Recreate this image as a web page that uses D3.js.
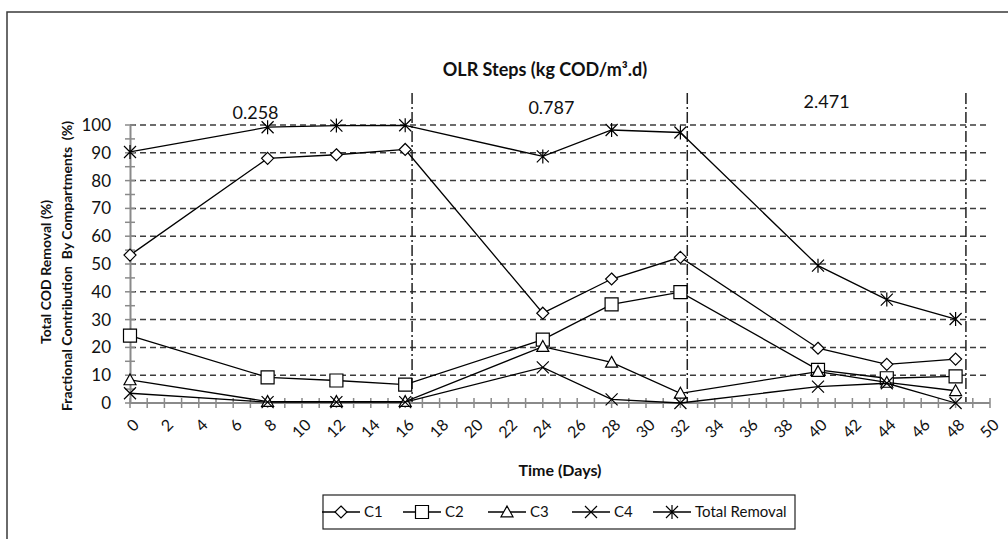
<!DOCTYPE html>
<html><head><meta charset="utf-8">
<script src="https://cdn.jsdelivr.net/npm/d3@7"></script>
<style>body{margin:0;background:#fff;} text{font-family:Lato,"Noto Sans",sans-serif;fill:#111;}</style>
</head><body>
<svg id="chart" width="1008" height="539"></svg>
<script>
const days = [0, 8, 12, 16, 24, 28, 32, 40, 44, 48];
const c1 = [53.2, 88, 89.3, 91.2, 32.3, 44.6, 52.4, 19.7, 13.9, 15.8];
const c2 = [24.2, 9.2, 8.1, 6.6, 22.8, 35.5, 39.9, 11.9, 8.9, 9.6];
const c3 = [8.3, 0.5, 0.5, 0.5, 20.3, 14.6, 3.5, 11.3, 7.4, 4.4];
const c4 = [3.5, 0.3, 0.3, 0.3, 12.8, 1.3, 0, 5.9, 7.1, 0];
const totalRemoval = [90.3, 99.2, 99.8, 99.9, 88.7, 98.2, 97.3, 49.4, 37.2, 30.2];
const seriesNames = ["C1", "C2", "C3", "C4", "Total Removal"];
const seriesMarkers = ["diamond", "square", "triangle", "x", "star"];
const olrSteps = ["0.258", "0.787", "2.471"];
const olrLabelDays = [7.3, 24.5, 40.5];
const olrBoundaries = [16.4, 32.4, 48.6];
const yTicks = [0, 10, 20, 30, 40, 50, 60, 70, 80, 90, 100];
const xTicks = d3.range(0, 51, 2);

const svg = d3.select("#chart");
const x = d3.scaleLinear().domain([0, 50]).range([130, 990]);
const y = d3.scaleLinear().domain([0, 100]).range([403, 125]);

// outer frame
svg.append("rect").attr("x", 7).attr("y", 12).attr("width", 1010).attr("height", 540)
  .attr("fill", "none").attr("stroke", "#3a3a3a").attr("stroke-width", 1.5);

// gridlines
svg.append("g").selectAll("line").data(yTicks.filter(d => d > 0)).join("line")
  .attr("x1", x(0)).attr("x2", x(50)).attr("y1", d => y(d)).attr("y2", d => y(d))
  .attr("stroke", "#3c3c3c").attr("stroke-width", 1.5).attr("stroke-dasharray", "6,4");

// OLR boundaries
svg.append("g").selectAll("line").data(olrBoundaries).join("line")
  .attr("x1", d => x(d)).attr("x2", d => x(d)).attr("y1", 93).attr("y2", y(0))
  .attr("stroke", "#222").attr("stroke-width", 1.5).attr("stroke-dasharray", "11,3,2,3");

// axes
const yAxis = d3.axisLeft(y).tickValues(d3.range(0, 101, 5)).tickSize(0).tickFormat("");
svg.append("g").attr("transform", `translate(${x(0)},0)`).call(yAxis)
  .call(g => g.select(".domain").attr("stroke", "#8a8a8a").attr("stroke-width", 2));
svg.append("g").selectAll("line").data(d3.range(0, 101, 5)).join("line")
  .attr("x1", x(0) - 5).attr("x2", x(0) + 5).attr("y1", d => y(d)).attr("y2", d => y(d))
  .attr("stroke", "#8a8a8a").attr("stroke-width", 1.5);
svg.append("g").selectAll("text").data(yTicks).join("text")
  .attr("x", 111).attr("y", d => y(d)).attr("dy", "0.35em").attr("text-anchor", "end")
  .style("font-size", "17px").text(d => d);

svg.append("line").attr("x1", x(0)).attr("x2", x(50)).attr("y1", y(0)).attr("y2", y(0))
  .attr("stroke", "#8a8a8a").attr("stroke-width", 2);
svg.append("g").selectAll("line").data(d3.range(0, 51, 1)).join("line")
  .attr("x1", d => x(d)).attr("x2", d => x(d)).attr("y1", y(0) - 5).attr("y2", y(0) + 5)
  .attr("stroke", "#8a8a8a").attr("stroke-width", 1.5);
svg.append("g").selectAll("text").data(xTicks).join("text")
  .attr("transform", d => `translate(${x(d) + 6},${y(0) + 19}) rotate(-45)`)
  .attr("text-anchor", "end").attr("dy", "0.35em")
  .style("font-size", "16px").text(d => d);

// titles
svg.append("text").attr("x", 545).attr("y", 76).attr("text-anchor", "middle")
  .style("font-size", "18px").style("font-weight", "bold").text("OLR Steps (kg COD/m³.d)");
svg.append("text").attr("x", 560).attr("y", 476).attr("text-anchor", "middle")
  .style("font-size", "16px").style("font-weight", "bold").text("Time (Days)");
svg.append("text").attr("transform", "translate(51,272) rotate(-90)").attr("text-anchor", "middle")
  .style("font-size", "14px").style("font-weight", "bold").text("Total COD Removal (%)");
svg.append("text").attr("transform", "translate(72,266) rotate(-90)").attr("text-anchor", "middle")
  .style("font-size", "14px").style("font-weight", "bold").style("white-space", "pre")
  .attr("xml:space", "preserve").text("Fractional Contribution  By Compartments  (%)");

// OLR step labels
const olrY = [113, 108, 102];
svg.append("g").selectAll("text").data(olrSteps).join("text")
  .attr("x", (d, i) => x(olrLabelDays[i])).attr("y", (d, i) => olrY[i]).attr("dy", "0.35em")
  .attr("text-anchor", "middle").style("font-size", "18px").text(d => d);

// markers
function markerPath(type, s) {
  const h = s / 2;
  switch (type) {
    case "diamond": return `M0,${-h}L${h},0L0,${h}L${-h},0Z`;
    case "square": return `M${-h},${-h}H${h}V${h}H${-h}Z`;
    case "triangle": return `M0,${-h}L${h},${h * 0.8}H${-h}Z`;
    case "x": return `M${-h},${-h}L${h},${h}M${-h},${h}L${h},${-h}`;
    case "star": return `M${-h},${-h}L${h},${h}M${-h},${h}L${h},${-h}M0,${-h - 1}V${h + 1}`;
  }
}
const markerSize = {diamond: 12, square: 13, triangle: 12, x: 12, star: 12};

const allSeries = [c1, c2, c3, c4, totalRemoval];
const line = d3.line().x(d => x(d[0])).y(d => y(d[1]));
allSeries.forEach((vals, i) => {
  const pts = days.map((d, j) => [d, vals[j]]);
  const g = svg.append("g");
  g.append("path").attr("d", line(pts)).attr("fill", "none").attr("stroke", "#000").attr("stroke-width", 1.3);
  const m = seriesMarkers[i];
  g.selectAll("path.m").data(pts).join("path").attr("class", "m")
    .attr("transform", d => `translate(${x(d[0])},${y(d[1])})`)
    .attr("d", markerPath(m, markerSize[m]))
    .attr("fill", (m === "x" || m === "star") ? "none" : "#fff")
    .attr("stroke", "#000").attr("stroke-width", 1.2);
});

// legend
const lg = svg.append("g");
lg.append("rect").attr("x", 323).attr("y", 495).attr("width", 472).attr("height", 34)
  .attr("fill", "#fff").attr("stroke", "#222").attr("stroke-width", 1.2);
const legX = [322, 403, 488, 572, 653];
seriesNames.forEach((name, i) => {
  const lx = legX[i], ly = 512;
  lg.append("line").attr("x1", lx).attr("x2", lx + 38).attr("y1", ly).attr("y2", ly)
    .attr("stroke", "#000").attr("stroke-width", 1.3);
  const m = seriesMarkers[i];
  lg.append("path").attr("transform", `translate(${lx + 19},${ly})`)
    .attr("d", markerPath(m, markerSize[m]))
    .attr("fill", (m === "x" || m === "star") ? "none" : "#fff")
    .attr("stroke", "#000").attr("stroke-width", 1.2);
  lg.append("text").attr("x", lx + 42).attr("y", ly).attr("dy", "0.35em")
    .style("font-size", "15px").text(name);
});
</script>
</body></html>
